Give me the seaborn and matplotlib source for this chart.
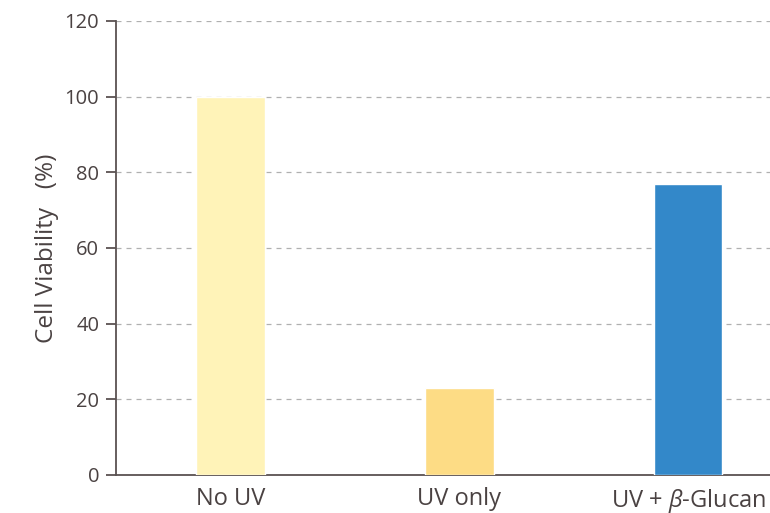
import pandas as pd
import matplotlib
matplotlib.use("Agg")
import matplotlib.pyplot as plt
import seaborn as sns

# Chart data
categories = ["No UV", "UV only", "UV + $\\beta$-Glucan"]
viability = [100, 23, 77]
bar_colors = ["#FFF3B8", "#FDDC85", "#3388C9"]

sns.set_theme(style="white")
plt.rcParams['font.family'] = ['Open Sans', 'DejaVu Sans']
plt.rcParams['mathtext.fontset'] = 'custom'
plt.rcParams['mathtext.it'] = 'Open Sans:italic'

TEXT = "#4a4242"

df = pd.DataFrame({"group": categories, "value": viability})

fig = plt.figure(figsize=(7.7, 5.13), dpi=100)
ax = fig.add_axes([0.1506, 0.0741, 0.8916, 0.885])

sns.barplot(data=df, x="group", y="value", hue="group", palette=bar_colors,
            width=0.3, legend=False, ax=ax, zorder=3, saturation=1)

ax.set_xlim(-0.5, 2.5)
ax.set_ylim(0, 120)
ax.set_yticks(range(0, 121, 20))
ax.grid(axis="y", linestyle=(0, (4, 4)), color="#b0b0b0", linewidth=0.9, zorder=0)

for side in ["top", "right"]:
    ax.spines[side].set_visible(False)
for side in ["left", "bottom"]:
    ax.spines[side].set_color("#5a5252")
    ax.spines[side].set_linewidth(1.3)

ax.tick_params(axis="y", left=True, length=7, width=1.3, color="#5a5252",
               labelsize=14.5, labelcolor=TEXT, pad=5)
ax.tick_params(axis="x", bottom=False, labelsize=17, labelcolor=TEXT, pad=3)

ax.set_xlabel("")
ax.set_ylabel("Cell Viability   (%)", fontsize=17.5, color=TEXT, labelpad=4)

fig.savefig("out.png", dpi=100)
